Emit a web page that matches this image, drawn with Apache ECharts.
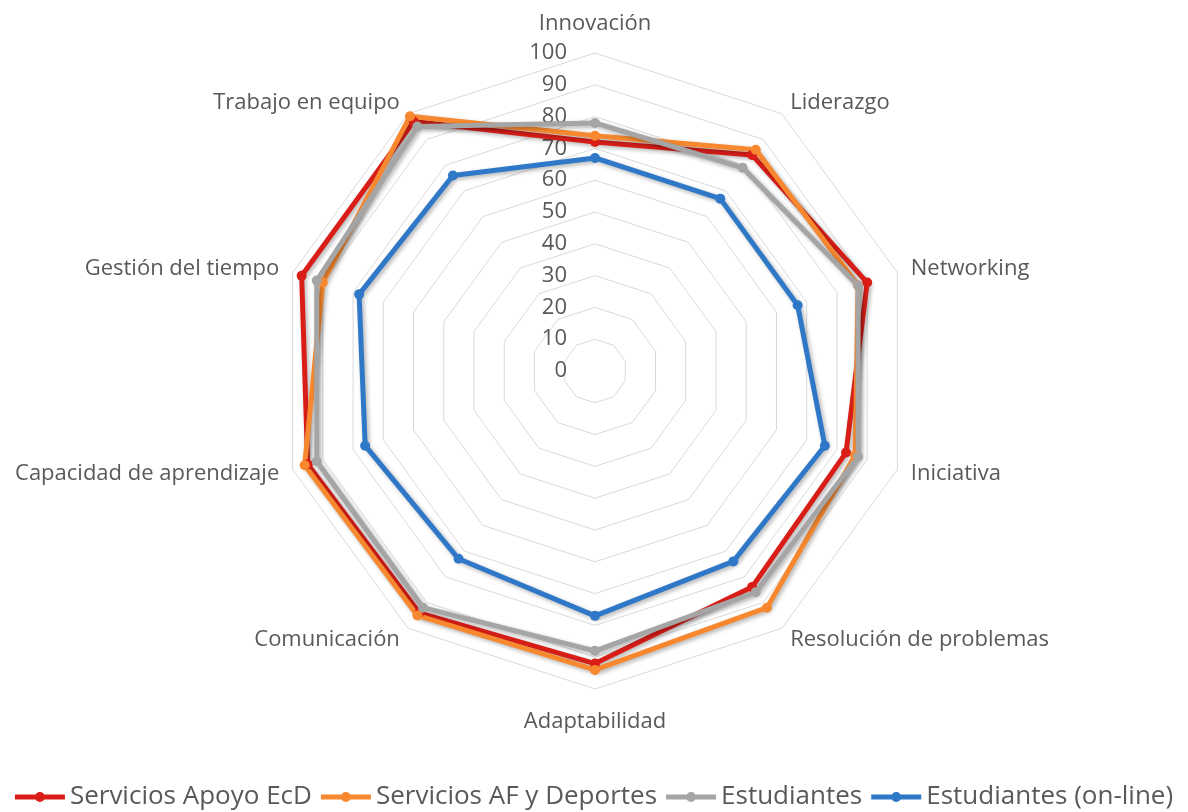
<!DOCTYPE html>
<html><head><meta charset="utf-8">
<script src="https://cdn.jsdelivr.net/npm/echarts@6/dist/echarts.min.js"></script>
<style>html,body{margin:0;padding:0;background:#fff}#c{width:1188px;height:812px}</style>
</head><body><div id="c"></div>
<script>
const indicators = ['Innovación','Liderazgo','Networking','Iniciativa','Resolución de problemas','Adaptabilidad','Comunicación','Capacidad de aprendizaje','Gestión del tiempo','Trabajo en equipo'];
const seriesNames = ['Servicios Apoyo EcD','Servicios AF y Deportes','Estudiantes','Estudiantes (on-line)'];
const apoyoEcD = [72, 84, 90, 83, 84, 92, 94, 95, 97, 97];
const afDeportes = [74, 86, 87, 86, 92, 94, 95, 96, 90, 99];
const estudiantes = [78, 79, 87, 87, 86, 88, 92, 92, 92, 95];
const estudiantesOnline = [67, 67, 67, 76, 74, 77, 73, 76, 78, 76];
const scaleMax = 100;
const colors = ['#D91E18','#F7882F','#A5A5A5','#2F78C8'];
const values = [apoyoEcD, afDeportes, estudiantes, estudiantesOnline];
const font = '"Open Sans", sans-serif';

// ECharts radar runs counter-clockwise; reorder so the categories run clockwise like the original
const order = [0].concat(indicators.slice(1).map((_, i) => indicators.length - 1 - i));
const legendIcon = 'path://M0,3 L50,3 L50,8 L0,8 Z M20,5.5 A5,5 0 1,1 30,5.5 A5,5 0 1,1 20,5.5 Z';

const chart = echarts.init(document.getElementById('c'));
chart.setOption({
  animation: false,
  color: colors,
  legend: {
    top: 779, left: 'center',
    icon: legendIcon,
    itemWidth: 50, itemHeight: 11, itemGap: 9,
    textStyle: {color: '#595959', fontSize: 26, fontFamily: font},
    data: seriesNames
  },
  radar: {
    center: [595, 371], radius: 318,
    startAngle: 90,
    splitNumber: 10,
    shape: 'polygon',
    nameGap: 14,
    axisName: {
      color: '#595959', fontSize: 22, fontFamily: font,
      formatter: function (name) {
        if (name === indicators[0]) return '{t|' + name + '}';
        if (name === indicators[5]) return '{b|' + name + '}';
        return name;
      },
      rich: {
        t: {color: '#595959', fontSize: 22, fontFamily: font, padding: [0, 0, 4, 0]},
        b: {color: '#595959', fontSize: 22, fontFamily: font, padding: [8, 0, 0, 0]}
      }
    },
    axisLine: {show: false},
    axisTick: {show: false},
    axisLabel: {show: true, color: '#595959', fontSize: 22, fontFamily: font, margin: 28},
    splitLine: {lineStyle: {color: '#D9D9D9', width: 1}},
    splitArea: {show: false},
    indicator: order.map((k, i) => i === 0
      ? {name: indicators[k], min: 0, max: scaleMax}
      : {name: indicators[k], min: 0, max: scaleMax, axisLabel: {show: false}})
  },
  series: [{
    type: 'radar',
    symbol: 'circle', symbolSize: 10,
    data: values.map((v, i) => ({
      name: seriesNames[i], value: order.map(k => v[k]),
      lineStyle: {width: 5, color: colors[i], shadowColor: 'rgba(0,0,0,0.3)', shadowBlur: 4, shadowOffsetX: 2, shadowOffsetY: 2},
      itemStyle: {color: colors[i]}
    }))
  }]
});
</script></body></html>
